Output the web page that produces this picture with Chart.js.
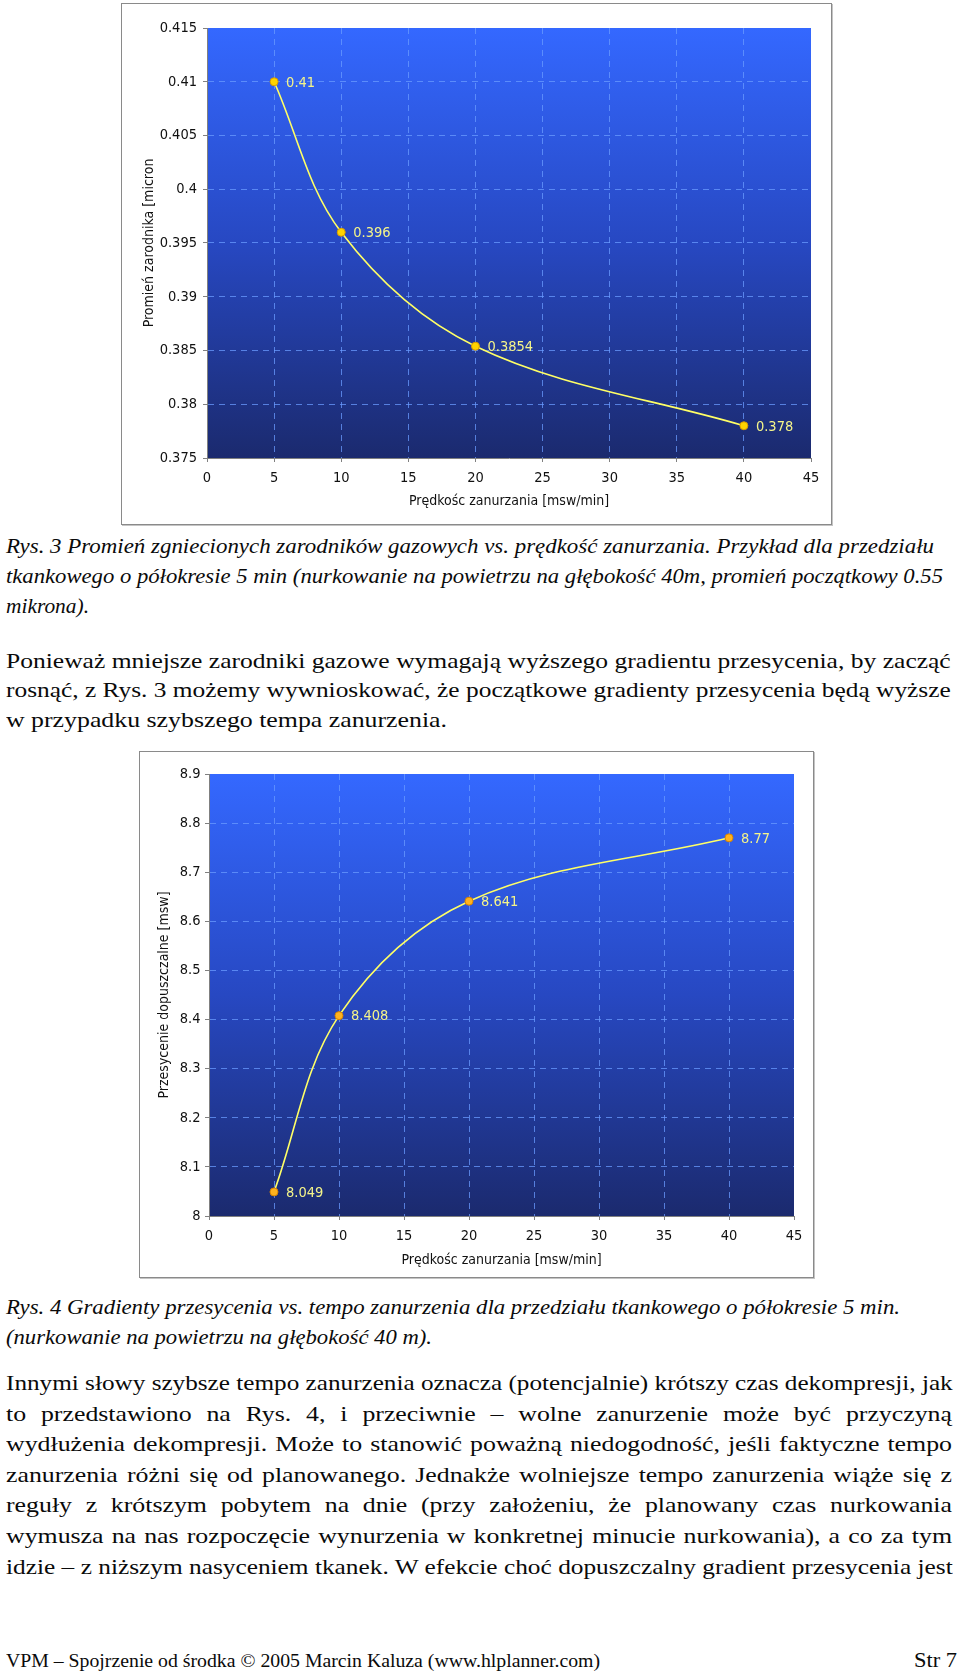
<!DOCTYPE html>
<html><head><meta charset="utf-8">
<script src="https://cdn.jsdelivr.net/npm/chart.js@4.4.0/dist/chart.umd.min.js"></script>
<style>
html,body{margin:0;padding:0;background:#fff;}
body{width:960px;height:1675px;position:relative;overflow:hidden;}
.frame{position:absolute;box-sizing:border-box;border:1px solid #8a8a8a;background:#fff;box-shadow:1px 1px 0 #c4c4c4;}
.frame canvas{display:block;}
.ln{position:absolute;left:0;top:0;white-space:nowrap;font-family:"Liberation Serif","Times New Roman",serif;font-size:21.5px;line-height:30px;color:#0a0a0a;transform-origin:0 0;}
.it{font-style:italic;}
.ft{font-size:18px;}
</style></head><body>

<div class="frame" style="left:121px;top:3px;width:711px;height:522px;"><canvas id="c1" width="709" height="520"></canvas></div>

<div class="ln it" data-g="c3a" data-x="6" data-b="553" data-w="928">Rys. 3 Promień zgniecionych zarodników gazowych vs. prędkość zanurzania. Przykład dla przedziału</div>
<div class="ln it" data-g="c3b" data-x="6" data-b="583" data-w="937">tkankowego o półokresie 5 min (nurkowanie na powietrzu na głębokość 40m, promień początkowy 0.55</div>
<div class="ln it" data-g="c3c" data-x="6" data-b="613" data-w="83">mikrona).</div>

<div class="ln" data-g="p1" data-j="1" data-x="6" data-b="668" data-w="944">Ponieważ mniejsze zarodniki gazowe wymagają wyższego gradientu przesycenia, by zacząć</div>
<div class="ln" data-g="p1" data-j="1" data-x="6" data-b="697" data-w="944">rosnąć, z Rys. 3 możemy wywnioskować, że początkowe gradienty przesycenia będą wyższe</div>
<div class="ln" data-g="p1" data-x="6" data-b="727" data-w="441">w przypadku szybszego tempa zanurzenia.</div>

<div class="frame" style="left:139px;top:751px;width:675px;height:527px;"><canvas id="c2" width="673" height="525"></canvas></div>

<div class="ln it" data-g="c4" data-x="6" data-b="1314" data-w="894">Rys. 4 Gradienty przesycenia vs. tempo zanurzenia dla przedziału tkankowego o półokresie 5 min.</div>
<div class="ln it" data-g="c4b" data-x="6" data-b="1344" data-w="426">(nurkowanie na powietrzu na głębokość 40 m).</div>

<div class="ln" data-g="p2" data-j="1" data-x="6" data-b="1390" data-w="946">Innymi słowy szybsze tempo zanurzenia oznacza (potencjalnie) krótszy czas dekompresji, jak</div>
<div class="ln" data-g="p2" data-j="1" data-x="6" data-b="1420.5" data-w="946">to przedstawiono na Rys. 4, i przeciwnie – wolne zanurzenie może być przyczyną</div>
<div class="ln" data-g="p2" data-j="1" data-x="6" data-b="1451" data-w="946">wydłużenia dekompresji. Może to stanowić poważną niedogodność, jeśli faktyczne tempo</div>
<div class="ln" data-g="p2" data-j="1" data-x="6" data-b="1481.5" data-w="946">zanurzenia różni się od planowanego. Jednakże wolniejsze tempo zanurzenia wiąże się z</div>
<div class="ln" data-g="p2" data-j="1" data-x="6" data-b="1512" data-w="946">reguły z krótszym pobytem na dnie (przy założeniu, że planowany czas nurkowania</div>
<div class="ln" data-g="p2" data-j="1" data-x="6" data-b="1543" data-w="946">wymusza na nas rozpoczęcie wynurzenia w konkretnej minucie nurkowania), a co za tym</div>
<div class="ln" data-g="p2" data-j="1" data-x="6" data-b="1573.5" data-w="946">idzie – z niższym nasyceniem tkanek. W efekcie choć dopuszczalny gradient przesycenia jest</div>

<div class="ln ft" data-g="ft" data-x="6" data-b="1667" data-w="594">VPM – Spojrzenie od środka © 2005 Marcin Kaluza (www.hlplanner.com)</div>
<div class="ln" data-g="str" data-x="914" data-r="957" data-b="1667" data-w="43">Str 7</div>

<script>
// ---- data ----
const descentRates = [5, 10, 20, 40];                 // Prędkośc zanurzania [msw/min]
const nucleusRadius = [0.41, 0.396, 0.3854, 0.378];   // Promień zarodnika [micron]
const allowedGradient = [8.049, 8.408, 8.641, 8.77];  // Przesycenie dopuszczalne [msw]
const rateTicks = [0, 5, 10, 15, 20, 25, 30, 35, 40, 45];
const radiusTicks = [0.375, 0.38, 0.385, 0.39, 0.395, 0.4, 0.405, 0.41, 0.415];
const gradientTicks = [8, 8.1, 8.2, 8.3, 8.4, 8.5, 8.6, 8.7, 8.8, 8.9];

const FONT_FAMILY = '"DejaVu Sans Condensed", "Liberation Sans", Arial, sans-serif';
const FONT_SIZE = 14.5;

const plotBg = {
  id: 'plotBg',
  beforeDraw(chart) {
    const {ctx, chartArea: a} = chart;
    const g = ctx.createLinearGradient(0, a.top, 0, a.bottom);
    g.addColorStop(0, '#3468FF');
    g.addColorStop(0.5, '#2748C2');
    g.addColorStop(1, '#1B2A6E');
    ctx.save();
    ctx.fillStyle = g;
    ctx.fillRect(a.left, a.top, a.right - a.left, a.bottom - a.top);
    ctx.restore();
  }
};

const valueLabels = {
  id: 'valueLabels',
  afterDatasetsDraw(chart) {
    const ctx = chart.ctx;
    ctx.save();
    ctx.font = FONT_SIZE + 'px ' + FONT_FAMILY;
    ctx.fillStyle = '#F4F48A';
    ctx.textAlign = 'left';
    ctx.textBaseline = 'middle';
    const ds = chart.data.datasets[0];
    chart.getDatasetMeta(0).data.forEach((pt, i) => {
      ctx.fillText(String(ds.data[i].y), pt.x + 12, pt.y + 1);
    });
    ctx.restore();
  }
};

function fmt(v) { return String(+(+v).toFixed(4)); }

function makeChart(id, values, yTicks, yTitle, g, pointFill, pointBorder) {
  const first = yTicks[0], last = yTicks[yTicks.length - 1];
  const gridColor = 'rgba(105,155,255,0.75)';
  return new Chart(document.getElementById(id), {
    type: 'line',
    data: {
      datasets: [{
        data: descentRates.map((x, i) => ({x: x, y: values[i]})),
        borderColor: '#FFFF66',
        borderWidth: 1.6,
        tension: 0.35,
        fill: false,
        pointRadius: 4,
        pointBackgroundColor: pointFill,
        pointBorderColor: pointBorder,
        pointBorderWidth: 1
      }]
    },
    options: {
      responsive: false,
      animation: false,
      devicePixelRatio: 1,
      layout: {padding: {left: 0, top: g.top, right: g.right, bottom: 0}},
      plugins: {legend: {display: false}, tooltip: {enabled: false}},
      scales: {
        x: {
          type: 'linear', min: 0, max: 45,
          afterBuildTicks: s => { s.ticks = rateTicks.map(v => ({value: v})); },
          afterFit: s => { s.height = g.xh; },
          grid: {
            color: c => (c.tick && (c.tick.value === 0 || c.tick.value === 45)) ? 'rgba(0,0,0,0)' : gridColor,
            lineWidth: 1, borderDash: [6, 5], tickLength: 4, tickColor: '#808080', tickBorderDash: [], tickWidth: 1
          },
          border: {display: true, color: '#808080', width: 1, dash: [6, 5]},
          ticks: {color: '#111', font: {family: FONT_FAMILY, size: FONT_SIZE}, padding: g.xpad, maxRotation: 0, callback: v => fmt(v)},
          title: {display: true, text: 'Prędkośc zanurzania [msw/min]', color: '#111',
                  font: {family: FONT_FAMILY, size: 14}, padding: {top: 0, bottom: g.xtb}}
        },
        y: {
          type: 'linear', min: first, max: last,
          afterBuildTicks: s => { s.ticks = yTicks.map(v => ({value: v})); },
          afterFit: s => { s.width = g.yw; },
          grid: {
            color: c => (c.tick && (Math.abs(c.tick.value - first) < 1e-9 || Math.abs(c.tick.value - last) < 1e-9)) ? 'rgba(0,0,0,0)' : gridColor,
            lineWidth: 1, borderDash: [6, 5], tickLength: 4, tickColor: '#808080', tickBorderDash: [], tickWidth: 1
          },
          border: {display: true, color: '#808080', width: 1, dash: [6, 5]},
          ticks: {color: '#111', font: {family: FONT_FAMILY, size: FONT_SIZE}, padding: g.ypad, callback: v => fmt(v)},
          title: {display: true, text: yTitle, color: '#111',
                  font: {family: FONT_FAMILY, size: 14}, padding: {top: g.ytt, bottom: 0}}
        }
      }
    },
    plugins: [plotBg, valueLabels]
  });
}

makeChart('c1', nucleusRadius, radiusTicks, 'Promień zarodnika [micron',
  {top: 24, right: 20, xh: 66, yw: 85, xpad: 8, ypad: 6, xtb: 14, ytt: 19},
  '#FFD400', '#D79A00');
makeChart('c2', allowedGradient, gradientTicks, 'Przesycenie dopuszczalne [msw]',
  {top: 22, right: 19, xh: 61, yw: 69, xpad: 8, ypad: 4.5, xtb: 8.6, ytt: 16},
  '#FFB21E', '#D98400');

// ---- text line fitting ----
function layoutText() {
  const lines = Array.from(document.querySelectorAll('.ln'));
  lines.forEach(el => { el.style.transform = 'none'; el.style.width = 'auto'; el.style.whiteSpace = 'nowrap'; el.style.textAlign = 'left'; el.style.textAlignLast = 'auto'; });
  const nat = new Map();
  lines.forEach(el => nat.set(el, el.getBoundingClientRect().width));
  const groupS = {};
  lines.filter(el => !el.dataset.j).forEach(el => {
    const s = (+el.dataset.w) / nat.get(el);
    el.dataset.s = s;
    groupS[el.dataset.g] = s;
  });
  const fallback = groupS.p1 || 1.15;
  lines.filter(el => el.dataset.j).forEach(el => {
    const target = +el.dataset.w, n = nat.get(el);
    let s = groupS[el.dataset.g] || fallback;
    if (n * s > target) s = target / n;
    el.style.whiteSpace = 'normal';
    el.style.width = Math.max(target / s, n + 0.6) + 'px';
    el.style.textAlign = 'justify';
    el.style.textAlignLast = 'justify';
    el.dataset.s = s;
  });
  lines.forEach(el => {
    const s = +el.dataset.s;
    const probe = document.createElement('span');
    probe.style.cssText = 'display:inline-block;width:0;height:0;vertical-align:baseline';
    el.appendChild(probe);
    const off = probe.getBoundingClientRect().top - el.getBoundingClientRect().top;
    el.removeChild(probe);
    el.style.top = (+el.dataset.b - off) + 'px';
    let left = +el.dataset.x;
    if (el.dataset.r) left = +el.dataset.r - nat.get(el) * s;
    el.style.left = left + 'px';
    el.style.transform = 'scaleX(' + s + ')';
  });
}
layoutText();
if (document.fonts && document.fonts.ready) document.fonts.ready.then(layoutText);
</script>
</body></html>
